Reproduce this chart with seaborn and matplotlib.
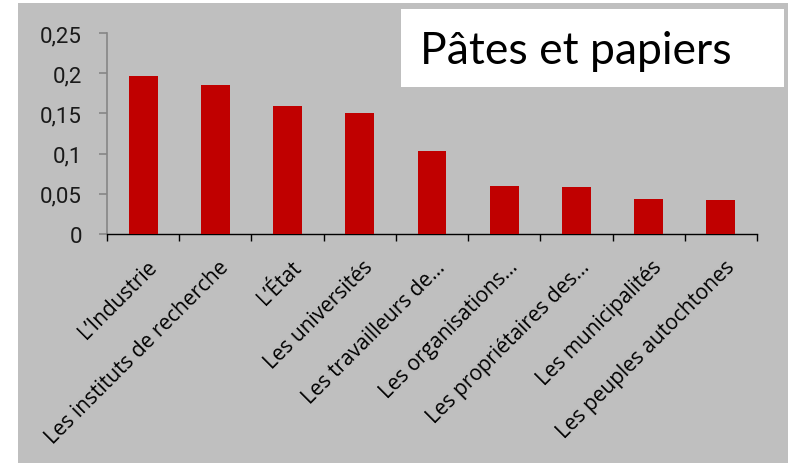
import numpy as np
import pandas as pd
import seaborn as sns
import matplotlib.pyplot as plt
import matplotlib.transforms as mtransforms
from matplotlib.patches import Rectangle
from matplotlib.ticker import FuncFormatter, FixedLocator

# data
categories = [
    "L\u2019Industrie",
    "Les instituts de recherche",
    "L\u2019\u00c9tat",
    "Les universit\u00e9s",
    "Les travailleurs de\u2026",
    "Les organisations\u2026",
    "Les propri\u00e9taires des\u2026",
    "Les municipalit\u00e9s",
    "Les peuples autochtones",
]
values = [0.197, 0.185, 0.159, 0.150, 0.103, 0.060, 0.058, 0.044, 0.042]
yticks = [0, 0.05, 0.1, 0.15, 0.2, 0.25]
title = "P\u00e2tes et papiers"

df = pd.DataFrame({"cat": categories, "val": values})

sns.set_style("white")
plt.rcParams["font.family"] = ["Open Sans", "DejaVu Sans"]

W, H = 788, 464
fig = plt.figure(figsize=(W / 100, H / 100), dpi=100)
fig.patch.set_facecolor("white")

# gray chart area
fig.add_artist(Rectangle((18 / W, 0), 1 - 18 / W, 1 - 4 / H, transform=fig.transFigure,
                         facecolor="#BFBFBF", edgecolor="none", zorder=0))

ax = fig.add_axes([107 / W, 1 - 235 / H, (757 - 107) / W, (235 - 34) / H])
ax.set_facecolor("none")

sns.barplot(data=df, x="cat", y="val", color="#C00000", width=0.4, saturation=1,
            edgecolor="none", linewidth=0, ax=ax, zorder=3)

ax.set_xlim(-0.5, len(categories) - 0.5)
ax.set_ylim(0, 0.25)
ax.set_yticks(yticks)
ax.yaxis.set_major_formatter(FuncFormatter(lambda v, p: ("%g" % round(v, 2)).replace(".", ",")))
ax.set_xlabel("")
ax.set_ylabel("")

for s in ["top", "right"]:
    ax.spines[s].set_visible(False)
ax.spines["left"].set_color("#868686")
ax.spines["left"].set_linewidth(1.2)
ax.spines["bottom"].set_color("black")
ax.spines["bottom"].set_linewidth(1.0)

ax.tick_params(axis="y", length=6, width=1.2, color="#868686", pad=12,
               labelsize=16, labelcolor="#1a1a1a", left=True)
for t in ax.get_yticklabels():
    t.set_family(["Roboto", "DejaVu Sans"])

# x ticks between categories, labels at centres
ax.xaxis.set_minor_locator(FixedLocator(np.arange(-0.5, len(categories), 1.0)))
ax.tick_params(axis="x", which="minor", length=5, width=1, color="black", bottom=True)
ax.tick_params(axis="x", which="major", length=0, pad=16, labelsize=15, labelcolor="black")
offset = mtransforms.ScaledTranslation(3 / 100, 0, fig.dpi_scale_trans)
for t in ax.get_xticklabels():
    t.set_rotation(45)
    t.set_ha("right")
    t.set_va("top")
    t.set_rotation_mode("anchor")
    t.set_transform(t.get_transform() + offset)

# title box
fig.add_artist(Rectangle((401 / W, 1 - 88 / H), (784 - 401) / W, (88 - 10) / H,
                         transform=fig.transFigure, facecolor="white", edgecolor="none", zorder=1))
fig.text(420 / W, 1 - 64 / H, title, fontsize=32, family=["Lato", "DejaVu Sans"],
         va="baseline", ha="left", color="black", zorder=2)

fig.savefig("out.png", dpi=100, facecolor=fig.get_facecolor())
